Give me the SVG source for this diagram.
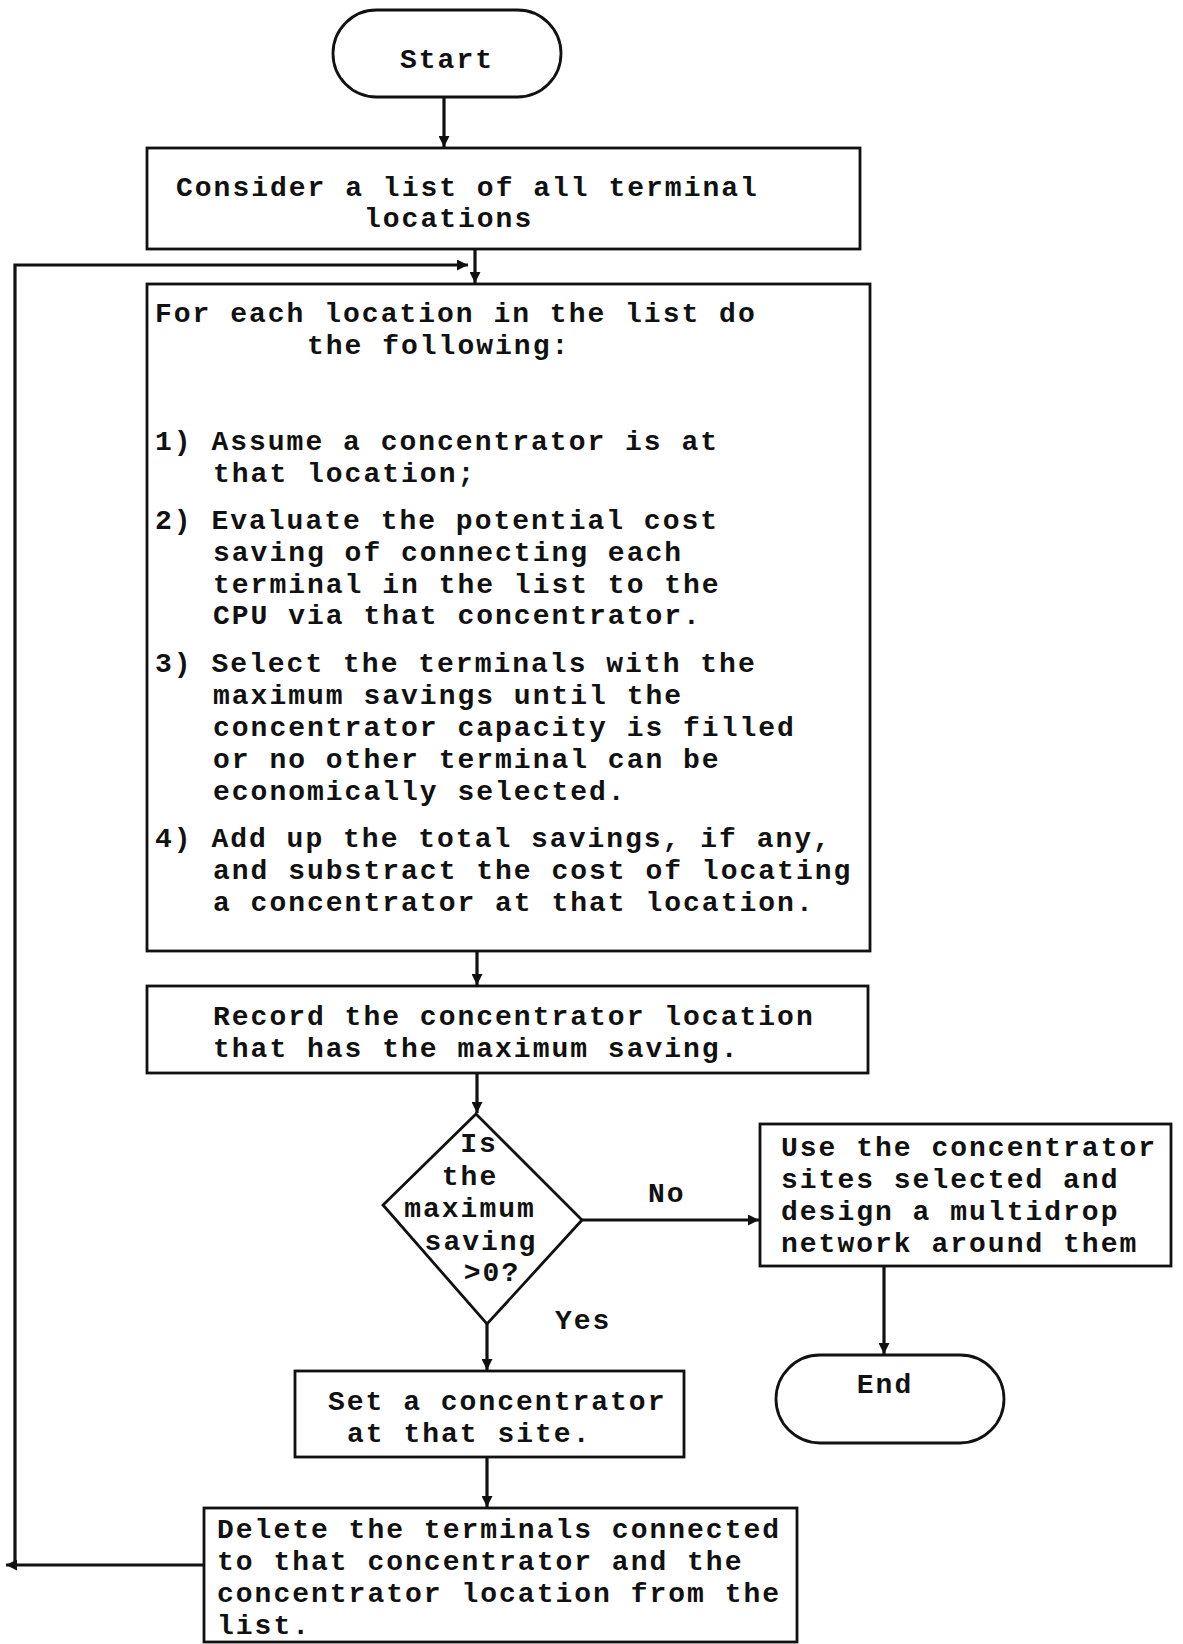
<svg xmlns="http://www.w3.org/2000/svg" width="1183" height="1644" viewBox="0 0 1183 1644">
  <style>
    .shape { fill: #ffffff; stroke: #111111; stroke-width: 2.8; }
    .line { fill: none; stroke: #111111; stroke-width: 3.2; }
    text { font-family: "Liberation Mono", "DejaVu Sans Mono", monospace; font-weight: bold; font-size: 28px; letter-spacing: 2px; fill: #111111; }
    .mid { text-anchor: middle; }
  </style>
  <defs>
    <marker id="arrow" viewBox="0 0 10 10" refX="10" refY="5" markerUnits="userSpaceOnUse" markerWidth="17" markerHeight="11" orient="auto">
      <path d="M0,0 L10,5 L0,10 z" fill="#111111"/>
    </marker>
  </defs>
  <rect width="1183" height="1644" fill="#ffffff"/>

  <!-- connectors -->
  <g id="connectors">
    <path class="line" d="M444,97 V147" marker-end="url(#arrow)"/>
    <path class="line" d="M475,249 V283" marker-end="url(#arrow)"/>
    <path class="line" d="M477,951 V985" marker-end="url(#arrow)"/>
    <path class="line" d="M477,1073 V1113" marker-end="url(#arrow)"/>
    <path class="line" d="M582,1220 H759" marker-end="url(#arrow)"/>
    <path class="line" d="M884,1266 V1354" marker-end="url(#arrow)"/>
    <path class="line" d="M487,1324 V1370" marker-end="url(#arrow)"/>
    <path class="line" d="M487,1457 V1507" marker-end="url(#arrow)"/>
    <path class="line" d="M204,1565 H6" marker-end="url(#arrow)"/>
    <path class="line" d="M15,1565 V265 H468" marker-end="url(#arrow)"/>
    <text x="648" y="1202">No</text>
    <text x="555" y="1329">Yes</text>
  </g>

  <!-- start terminal -->
  <g id="start">
    <rect class="shape" x="333" y="10" width="228" height="87" rx="43.5"/>
    <text class="mid" x="447" y="68">Start</text>
  </g>

  <!-- initial list -->
  <g id="consider">
    <rect class="shape" x="147" y="148" width="713" height="101"/>
    <text x="176" y="196">Consider a list of all terminal</text>
    <text x="364" y="227">locations</text>
  </g>

  <!-- evaluation loop body -->
  <g id="evaluate">
    <rect class="shape" x="147" y="284" width="723" height="667"/>
    <text x="155" y="322">For each location in the list do</text>
    <text x="307" y="354">the following:</text>
    <text x="155" y="450">1) Assume a concentrator is at</text>
    <text x="213" y="482">that location;</text>
    <text x="155" y="529">2) Evaluate the potential cost</text>
    <text x="213" y="561">saving of connecting each</text>
    <text x="213" y="593">terminal in the list to the</text>
    <text x="213" y="624">CPU via that concentrator.</text>
    <text x="155" y="672">3) Select the terminals with the</text>
    <text x="213" y="704">maximum savings until the</text>
    <text x="213" y="736">concentrator capacity is filled</text>
    <text x="213" y="768">or no other terminal can be</text>
    <text x="213" y="800">economically selected.</text>
    <text x="155" y="847">4) Add up the total savings, if any,</text>
    <text x="213" y="879">and substract the cost of locating</text>
    <text x="213" y="911">a concentrator at that location.</text>
  </g>

  <!-- record best site -->
  <g id="record">
    <rect class="shape" x="147" y="986" width="721" height="87"/>
    <text x="213" y="1025">Record the concentrator location</text>
    <text x="213" y="1057">that has the maximum saving.</text>
  </g>

  <!-- decision -->
  <g id="decision">
    <polygon class="shape" points="476,1114 582,1220 487,1324 383,1205"/>
    <text class="mid" x="479" y="1152">Is</text>
    <text class="mid" x="470" y="1185">the</text>
    <text class="mid" x="470" y="1217">maximum</text>
    <text class="mid" x="481" y="1250">saving</text>
    <text class="mid" x="492" y="1281">&gt;0?</text>
  </g>

  <!-- final design -->
  <g id="design">
    <rect class="shape" x="760" y="1124" width="411" height="142"/>
    <text x="781" y="1156">Use the concentrator</text>
    <text x="781" y="1188">sites selected and</text>
    <text x="781" y="1220">design a multidrop</text>
    <text x="781" y="1252">network around them</text>
  </g>

  <!-- end terminal -->
  <g id="end">
    <rect class="shape" x="776" y="1355" width="228" height="88" rx="44"/>
    <text class="mid" x="885" y="1393">End</text>
  </g>

  <!-- place concentrator -->
  <g id="set">
    <rect class="shape" x="295" y="1371" width="389" height="86"/>
    <text x="328" y="1410">Set a concentrator</text>
    <text x="347" y="1442">at that site.</text>
  </g>

  <!-- remove covered terminals -->
  <g id="delete">
    <rect class="shape" x="204" y="1508" width="593" height="134"/>
    <text x="217" y="1538">Delete the terminals connected</text>
    <text x="217" y="1570">to that concentrator and the</text>
    <text x="217" y="1602">concentrator location from the</text>
    <text x="217" y="1634">list.</text>
  </g>
</svg>
